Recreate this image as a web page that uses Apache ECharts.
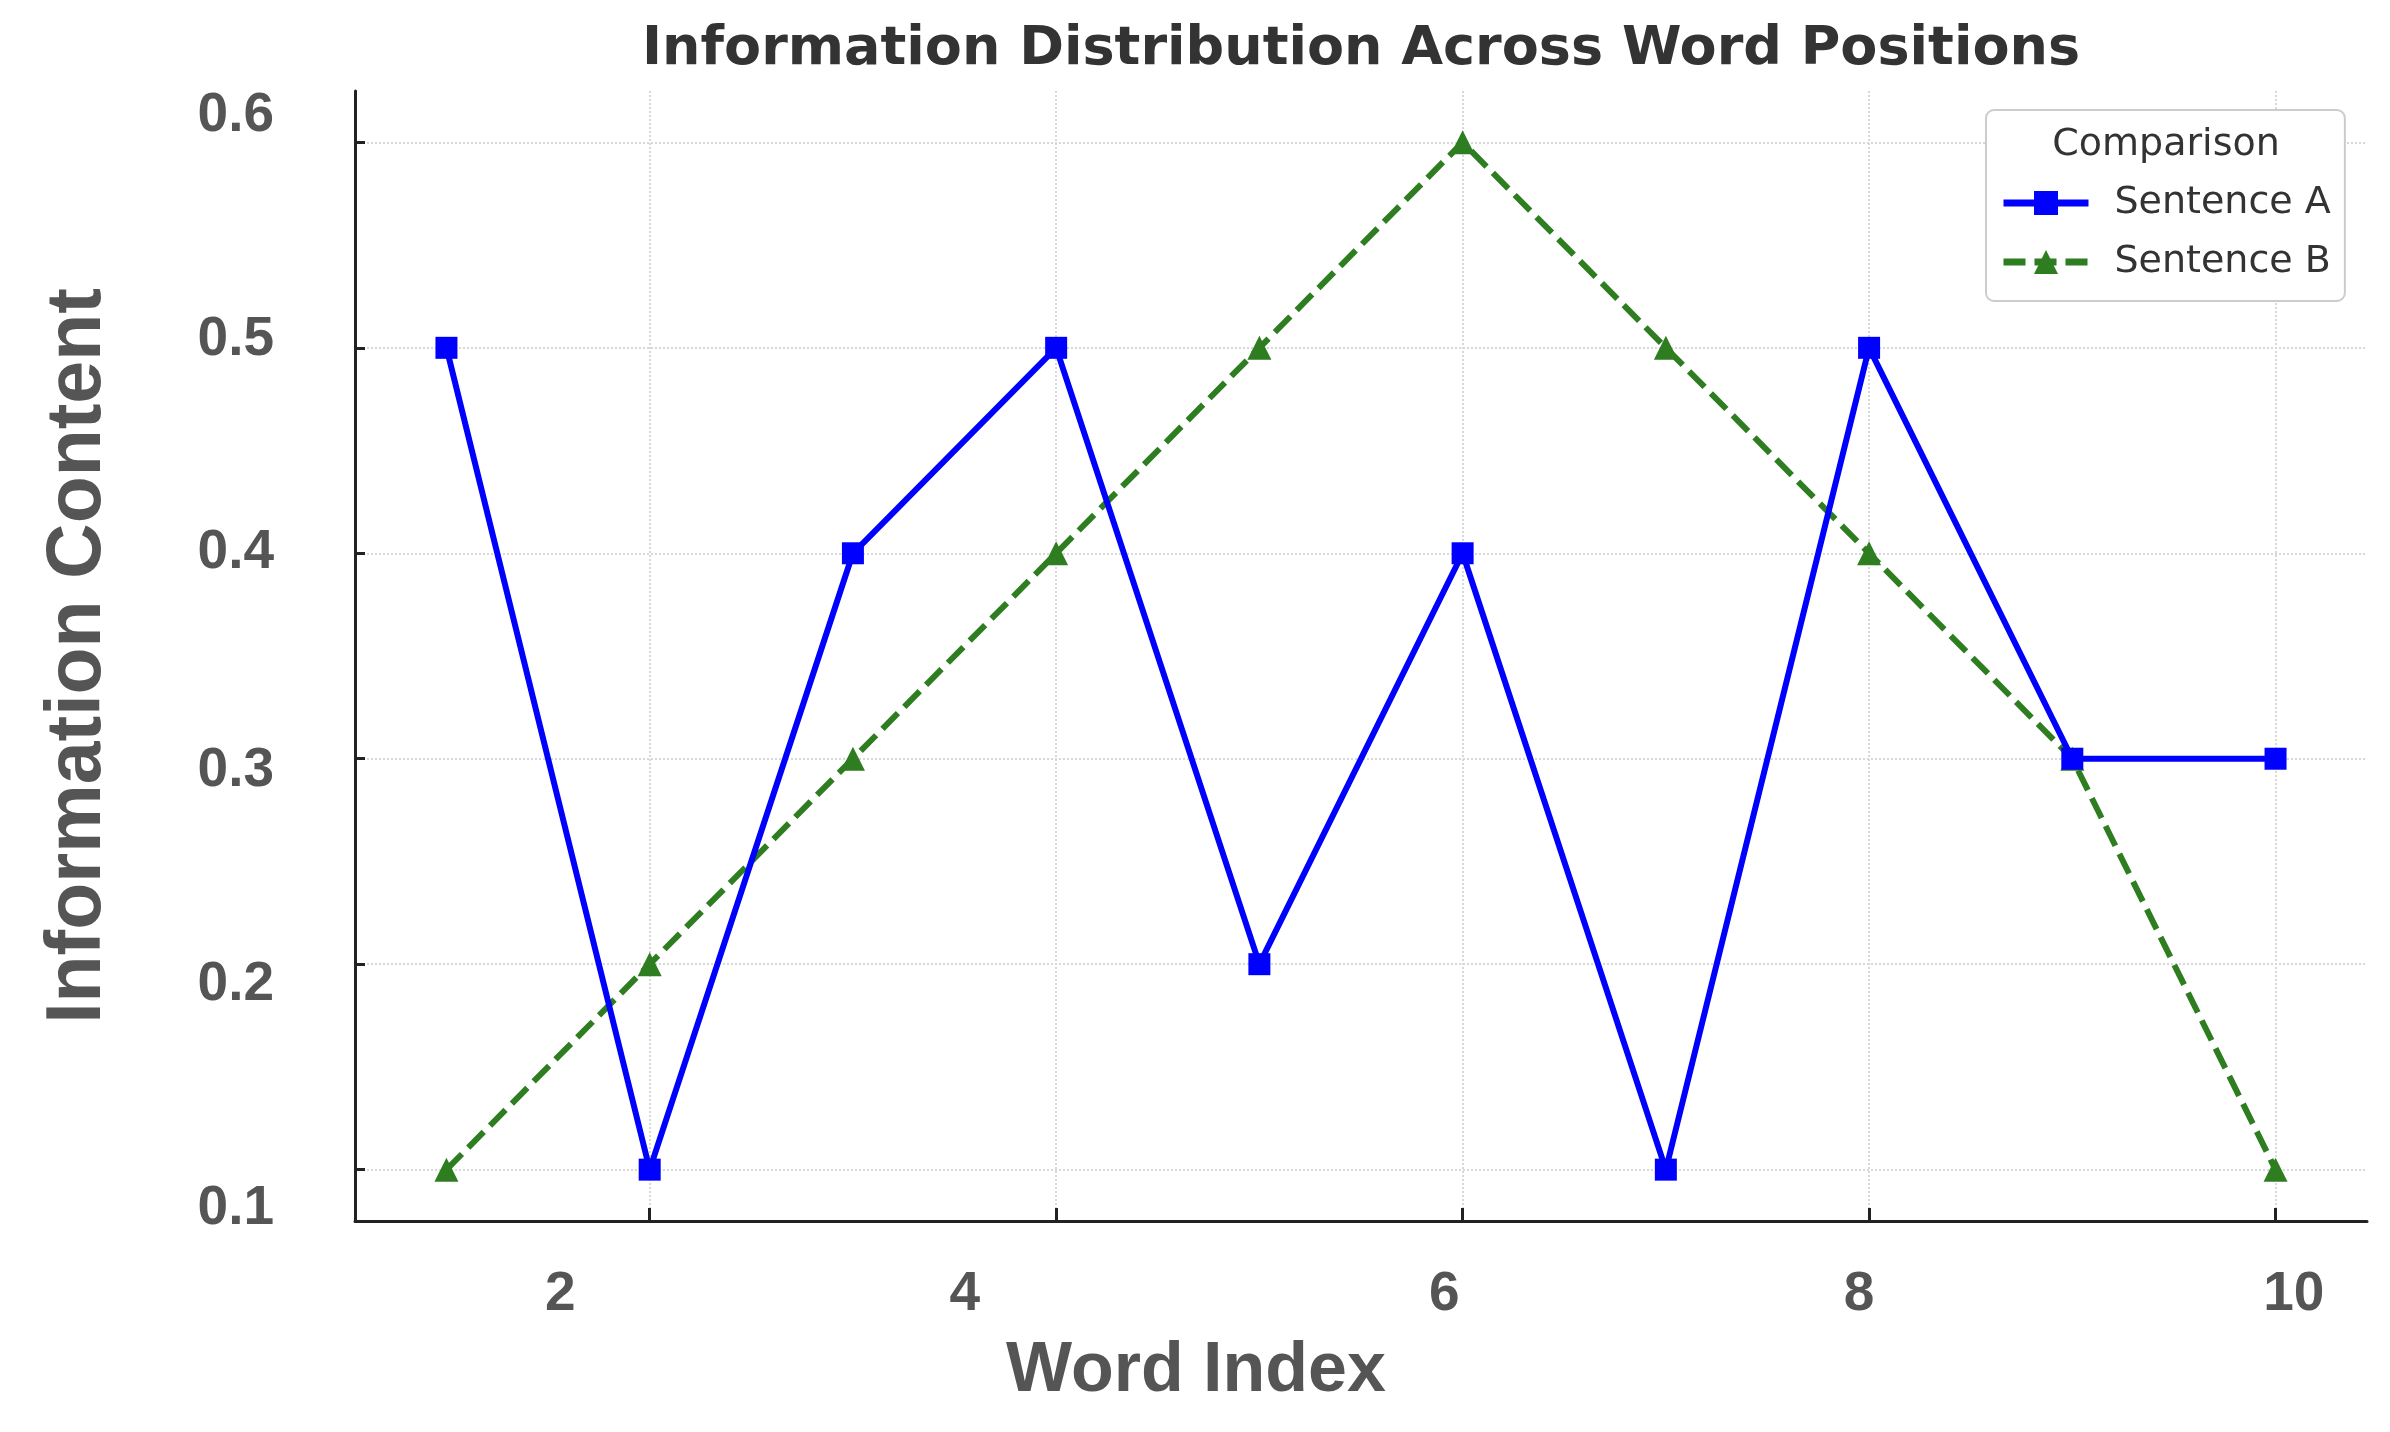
<!DOCTYPE html>
<html>
<head>
<meta charset="utf-8">
<script src="https://cdn.jsdelivr.net/npm/echarts@6/dist/echarts.min.js"></script>
<style>
  html, body { margin: 0; padding: 0; background: #fff; }
  #chart { width: 2390px; height: 1432px; }
</style>
</head>
<body>
<div id="chart"></div>
<script>
const wordIndex = [1, 2, 3, 4, 5, 6, 7, 8, 9, 10];
const sentenceA = [0.5, 0.1, 0.4, 0.5, 0.2, 0.4, 0.1, 0.5, 0.3, 0.3];
const sentenceB = [0.1, 0.2, 0.3, 0.4, 0.5, 0.6, 0.5, 0.4, 0.3, 0.1];

const xTicks = [2, 4, 6, 8, 10];
const yTicks = [0.1, 0.2, 0.3, 0.4, 0.5, 0.6];

// in the picture the tick labels sit a little off their ticks
const xTickLabels = ['2', '4', '6', '8', '10'];
const xLabelPos = [1.56, 3.55, 5.91, 7.95, 10.09];
const yTickLabels = ['0.1', '0.2', '0.3', '0.4', '0.5', '0.6'];
const yLabelPos = [0.081, 0.19, 0.294, 0.4, 0.504, 0.613];

const blue = '#0000ff';
const green = '#2e7d20';
const axisColor = '#222';
const labelFont = 'Liberation Sans';

function labelFor(pos, labels) {
  return function (v) {
    let best = 0;
    pos.forEach((p, i) => {
      if (Math.abs(p - v) < Math.abs(pos[best] - v)) best = i;
    });
    return labels[best];
  };
}

const chart = echarts.init(document.getElementById('chart'), null, { renderer: 'canvas' });

const option = {
  animation: false,
  backgroundColor: '#fff',
  title: {
    text: 'Information Distribution Across Word Positions',
    left: 637,
    top: 18,
    textStyle: { fontFamily: 'DejaVu Sans', fontWeight: 'bold', fontSize: 54, color: '#333' }
  },
  grid: { left: 355, right: 23, top: 91, bottom: 211 },
  legend: {
    orient: 'vertical',
    left: 1986,
    top: 110,
    padding: [74, 14, 20, 14],
    itemGap: 21,
    itemWidth: 85,
    itemHeight: 30,
    borderColor: '#ccc',
    borderWidth: 2,
    borderRadius: 8,
    backgroundColor: '#fff',
    lineStyle: { width: 7 },
    textStyle: { fontFamily: 'DejaVu Sans', fontSize: 38, color: '#333', padding: [0, 0, 0, 21] },
    data: ['Sentence A', 'Sentence B']
  },
  graphic: [{
    type: 'text',
    x: 2166,
    y: 145,
    z: 100,
    style: {
      text: 'Comparison',
      align: 'center',
      verticalAlign: 'middle',
      fontFamily: 'DejaVu Sans',
      fontSize: 38,
      fill: '#333'
    }
  }],
  xAxis: [{
    type: 'value',
    min: 0.55,
    max: 10.45,
    name: 'Word Index',
    nameLocation: 'middle',
    nameGap: 116,
    nameTextStyle: {
      fontFamily: labelFont, fontWeight: 'bold', fontSize: 70, color: '#555',
      padding: [0, 330, 0, 0]
    },
    axisLine: { show: true, lineStyle: { color: axisColor, width: 3 } },
    axisTick: { show: true, inside: true, length: 13, customValues: xTicks, lineStyle: { color: axisColor, width: 3 } },
    axisLabel: { show: false, customValues: xTicks },
    splitLine: { show: true, lineStyle: { color: '#d8d8d8', type: 'dotted', width: 2 } }
  }, {
    type: 'value',
    position: 'bottom',
    min: 0.55,
    max: 10.45,
    axisLine: { show: false },
    axisTick: { show: false },
    splitLine: { show: false },
    axisLabel: {
      customValues: xLabelPos,
      formatter: labelFor(xLabelPos, xTickLabels),
      margin: 46,
      fontFamily: labelFont, fontWeight: 'bold', fontSize: 55, color: '#555'
    }
  }],
  yAxis: [{
    type: 'value',
    min: 0.075,
    max: 0.625,
    name: 'Information Content',
    nameLocation: 'middle',
    nameRotate: 90,
    nameGap: 238,
    nameTextStyle: { fontFamily: labelFont, fontWeight: 'bold', fontSize: 77, color: '#555' },
    axisLine: { show: true, lineStyle: { color: axisColor, width: 3 } },
    axisTick: { show: true, inside: true, length: 10, customValues: yTicks, lineStyle: { color: axisColor, width: 3 } },
    axisLabel: { show: false, customValues: yTicks },
    splitLine: { show: true, lineStyle: { color: '#d8d8d8', type: 'dotted', width: 2 } }
  }, {
    type: 'value',
    position: 'left',
    min: 0.075,
    max: 0.625,
    axisLine: { show: false },
    axisTick: { show: false },
    splitLine: { show: false },
    axisLabel: {
      customValues: yLabelPos,
      formatter: labelFor(yLabelPos, yTickLabels),
      margin: 81,
      fontFamily: labelFont, fontWeight: 'bold', fontSize: 55, color: '#555'
    }
  }],
  series: [{
    name: 'Sentence A',
    type: 'line',
    data: wordIndex.map((x, i) => [x, sentenceA[i]]),
    symbol: 'rect',
    symbolSize: 22,
    lineStyle: { color: blue, width: 6 },
    itemStyle: { color: blue },
    z: 3
  }, {
    name: 'Sentence B',
    type: 'line',
    data: wordIndex.map((x, i) => [x, sentenceB[i]]),
    symbol: 'triangle',
    symbolSize: 24,
    lineStyle: { color: green, width: 6, type: [22, 9] },
    itemStyle: { color: green },
    z: 2
  }]
};

chart.setOption(option);
</script>
</body>
</html>
